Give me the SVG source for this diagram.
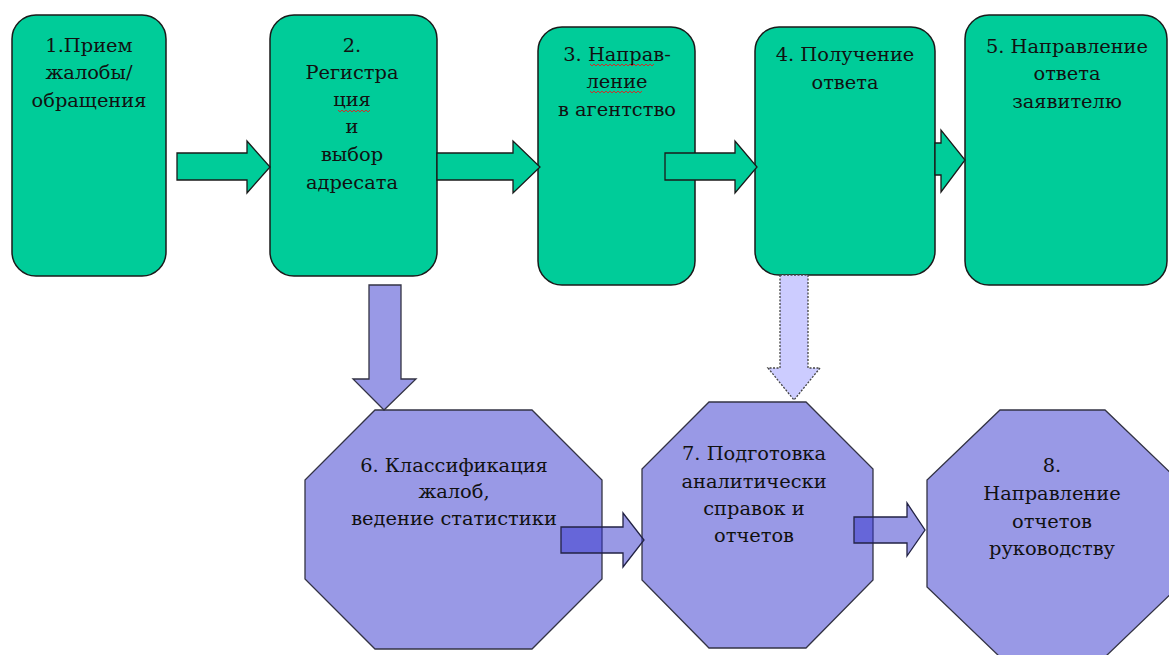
<svg xmlns="http://www.w3.org/2000/svg" width="1169" height="655" viewBox="0 0 1169 655">
<defs>
<style>
.box{fill:#00cc99;stroke:#1a1a1a;stroke-width:1.5}
.oct{fill:#9999e6;stroke:#333344;stroke-width:1.3}
.ga{fill:#00cc99;stroke:#1a1a1a;stroke-width:1.3}
.pa{fill:#9999e6;stroke:#333344;stroke-width:1.3}
.ta{fill:#3333cc;fill-opacity:0.5;stroke:#222244;stroke-width:1.3}
.da{fill:#ccccff;stroke:#444;stroke-width:1.3;stroke-dasharray:2 1.5}
.t{font-family:'DejaVu Serif',serif;font-size:19.4px;fill:#111;text-anchor:middle}
.sq{fill:none;stroke:#e02020;stroke-width:0.9}
</style>
</defs>
<rect width="1169" height="655" fill="#ffffff"/>
<g id="n1" class="t">
<rect class="box" x="12" y="15" width="154" height="261" rx="24"/>
<text x="89" y="52">1.Прием</text>
<text x="89" y="79">жалобы/</text>
<text x="89" y="107">обращения</text>
</g>
<g id="n2" class="t">
<rect class="box" x="270" y="15" width="167" height="261" rx="24"/>
<text x="352" y="52">2.</text>
<text x="352" y="79">Регистра</text>
<text x="352" y="106">ция</text>
<text x="352" y="133">и</text>
<text x="352" y="161">выбор</text>
<text x="352" y="189">адресата</text>
<path class="sq" d="M338,110 l2,2 l2,-2 l2,2 l2,-2 l2,2 l2,-2 l2,2 l2,-2 l2,2 l2,-2 l2,2 l2,-2 l2,2 l2,-2 l2,2 l2,-2"/>
</g>
<g id="n3" class="t">
<rect class="box" x="538" y="27" width="157" height="258" rx="24"/>
<text x="617" y="61">3. Направ-</text>
<text x="617" y="88">ление</text>
<text x="617" y="116">в агентство</text>
<path class="sq" d="M590,64 l2,2 l2,-2 l2,2 l2,-2 l2,2 l2,-2 l2,2 l2,-2 l2,2 l2,-2 l2,2 l2,-2 l2,2 l2,-2 l2,2 l2,-2 l2,2 l2,-2 l2,2 l2,-2 l2,2 l2,-2 l2,2 l2,-2 l2,2 l2,-2 l2,2 l2,-2 l2,2 l2,-2 l2,2 l2,-2"/>
<path class="sq" d="M590,91 l2,2 l2,-2 l2,2 l2,-2 l2,2 l2,-2 l2,2 l2,-2 l2,2 l2,-2 l2,2 l2,-2 l2,2 l2,-2 l2,2 l2,-2 l2,2 l2,-2 l2,2 l2,-2 l2,2 l2,-2 l2,2 l2,-2 l2,2 l2,-2"/>
</g>
<g id="n4" class="t">
<rect class="box" x="755" y="27" width="180" height="248" rx="24"/>
<text x="845" y="61">4. Получение</text>
<text x="845" y="89">ответа</text>
</g>
<g id="n5" class="t">
<rect class="box" x="965" y="15" width="202" height="270" rx="24"/>
<text x="1067" y="53">5. Направление</text>
<text x="1067" y="80">ответа</text>
<text x="1067" y="108">заявителю</text>
</g>
<g id="n6" class="t">
<polygon class="oct" points="375,410 532,410 602,480 602,579 532,649 375,649 305,579 305,480"/>
<text x="454" y="472">6. Классификация</text>
<text x="454" y="498">жалоб,</text>
<text x="454" y="525">ведение статистики</text>
</g>
<g id="n7" class="t">
<polygon class="oct" points="709,402 806,402 873,469 873,580 806,648 709,648 642,580 642,469"/>
<text x="754" y="460">7. Подготовка</text>
<text x="754" y="488">аналитически</text>
<text x="754" y="515">справок и</text>
<text x="754" y="542">отчетов</text>
</g>
<g id="n8" class="t">
<polygon class="oct" points="1000,410 1105,410 1178,480 1178,587 1105,657 1000,657 927,587 927,480"/>
<text x="1052" y="472">8.</text>
<text x="1052" y="500">Направление</text>
<text x="1052" y="528">отчетов</text>
<text x="1052" y="555">руководству</text>
</g>
<g id="connectors">
<path class="ga" d="M177,153 H247 V141 L270,167 L247,193 V180 H177 Z"/>
<path class="ga" d="M437,153 H513 V141 L540,167 L513,193 V180 H437 Z"/>
<path class="ga" d="M665,153 H735 V141 L757,167 L735,193 V180 H665 Z"/>
<path class="ga" d="M935,143 H941 V130 L965,160 L941,192 V175 H935 Z"/>
<path class="pa" d="M369,285 H401 V379 H416 L384,410 L353,379 H369 Z"/>
<path class="da" d="M780,275 H808 V368 H820 L794,400 L768,368 H780 Z"/>
<path class="ta" d="M561,527 H623 V513 L644,540 L623,567 V553 H561 Z"/>
<path class="ta" d="M854,517 H907 V503 L925,530 L907,556 V543 H854 Z"/>
</g>
</svg>
